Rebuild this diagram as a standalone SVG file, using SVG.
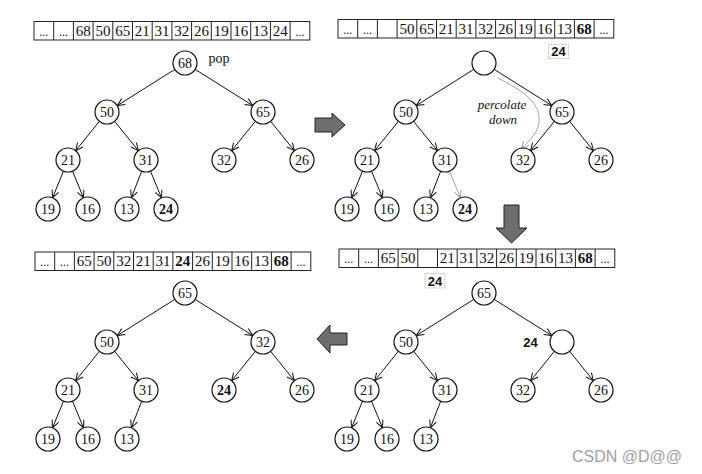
<svg xmlns="http://www.w3.org/2000/svg" xmlns:xlink="http://www.w3.org/1999/xlink" width="702" height="474" viewBox="0 0 702 474">
<style>
.bg{fill:#fff}
.nd{fill:#fff;stroke:#111;stroke-width:1.2}
.t{font-family:"Liberation Serif","Times New Roman",serif;font-size:14px;fill:#111;text-anchor:middle}
.b{font-weight:bold}
.lbl{font-family:"Liberation Sans",Arial,sans-serif;font-size:13px;font-weight:bold;fill:#111;text-anchor:middle}
.ed{fill:none;stroke:#111;stroke-width:1;marker-end:url(#ah)}
.eg{fill:none;stroke:#999;stroke-width:0.9;marker-end:url(#ahg)}
.cell{font-family:"Liberation Serif","Times New Roman",serif;font-size:15px;fill:#111;text-anchor:middle}
.dots{font-family:"Liberation Serif","Times New Roman",serif;font-size:12px;fill:#111;text-anchor:middle}
.frame{fill:none;stroke:#222;stroke-width:1}
.box{fill:#fff;stroke:#aaa;stroke-width:0.8;stroke-dasharray:1.5 1}
.blk{fill:#6e6e6e;stroke:#222;stroke-width:1}
.it{font-family:"Liberation Serif","Times New Roman",serif;font-size:13px;font-style:italic;fill:#111;text-anchor:middle}
</style>
<defs>
<marker id="ah" markerUnits="userSpaceOnUse" markerWidth="10" markerHeight="10" refX="8" refY="4" orient="auto">
<path d="M0.5,0.5 L8,4 L0.5,7.5" fill="none" stroke="#111" stroke-width="1"/>
</marker>
<marker id="ahg" markerUnits="userSpaceOnUse" markerWidth="10" markerHeight="10" refX="8" refY="4" orient="auto">
<path d="M0.5,0.5 L8,4 L0.5,7.5" fill="none" stroke="#999" stroke-width="0.9"/>
</marker>
<g id="grid">
<rect class="frame" x="0" y="0" width="275.8" height="18.5"/>
<path class="frame" d="M19.7,0V18.5M39.4,0V18.5M59.1,0V18.5M78.8,0V18.5M98.5,0V18.5M118.2,0V18.5M137.9,0V18.5M157.6,0V18.5M177.3,0V18.5M197,0V18.5M216.7,0V18.5M236.4,0V18.5M256.1,0V18.5"/>
</g>
</defs>
<rect class="bg" x="0" y="0" width="702" height="474"/>

<!-- Arrays -->
<g id="array-tl" transform="translate(34,21.5)">
<use xlink:href="#grid"/>
<text class="dots" x="9.85" y="14">...</text><text class="dots" x="29.55" y="14">...</text>
<text class="cell" x="49.25" y="14">68</text><text class="cell" x="68.95" y="14">50</text><text class="cell" x="88.65" y="14">65</text><text class="cell" x="108.35" y="14">21</text><text class="cell" x="128.05" y="14">31</text><text class="cell" x="147.75" y="14">32</text><text class="cell" x="167.45" y="14">26</text><text class="cell" x="187.15" y="14">19</text><text class="cell" x="206.85" y="14">16</text><text class="cell" x="226.55" y="14">13</text><text class="cell" x="246.25" y="14">24</text>
<text class="dots" x="265.95" y="14">...</text>
</g>
<g id="array-tr" transform="translate(338,19.5)">
<use xlink:href="#grid"/>
<text class="dots" x="9.85" y="14">...</text><text class="dots" x="29.55" y="14">...</text>
<text class="cell" x="68.95" y="14">50</text><text class="cell" x="88.65" y="14">65</text><text class="cell" x="108.35" y="14">21</text><text class="cell" x="128.05" y="14">31</text><text class="cell" x="147.75" y="14">32</text><text class="cell" x="167.45" y="14">26</text><text class="cell" x="187.15" y="14">19</text><text class="cell" x="206.85" y="14">16</text><text class="cell" x="226.55" y="14">13</text><text class="cell b" x="246.25" y="14">68</text>
<text class="dots" x="265.95" y="14">...</text>
</g>
<g id="array-bl" transform="translate(35,252)">
<use xlink:href="#grid"/>
<text class="dots" x="9.85" y="14">...</text><text class="dots" x="29.55" y="14">...</text>
<text class="cell" x="49.25" y="14">65</text><text class="cell" x="68.95" y="14">50</text><text class="cell" x="88.65" y="14">32</text><text class="cell" x="108.35" y="14">21</text><text class="cell" x="128.05" y="14">31</text><text class="cell b" x="147.75" y="14">24</text><text class="cell" x="167.45" y="14">26</text><text class="cell" x="187.15" y="14">19</text><text class="cell" x="206.85" y="14">16</text><text class="cell" x="226.55" y="14">13</text><text class="cell b" x="246.25" y="14">68</text>
<text class="dots" x="265.95" y="14">...</text>
</g>
<g id="array-br" transform="translate(339,249)">
<use xlink:href="#grid"/>
<text class="dots" x="9.85" y="14">...</text><text class="dots" x="29.55" y="14">...</text>
<text class="cell" x="49.25" y="14">65</text><text class="cell" x="68.95" y="14">50</text><text class="cell" x="108.35" y="14">21</text><text class="cell" x="128.05" y="14">31</text><text class="cell" x="147.75" y="14">32</text><text class="cell" x="167.45" y="14">26</text><text class="cell" x="187.15" y="14">19</text><text class="cell" x="206.85" y="14">16</text><text class="cell" x="226.55" y="14">13</text><text class="cell b" x="246.25" y="14">68</text>
<text class="dots" x="265.95" y="14">...</text>
</g>

<!-- Hole value boxes -->
<g id="box-tr"><rect class="box" x="548.5" y="44.5" width="20" height="14"/><text class="lbl" x="558.5" y="56">24</text></g>
<g id="box-br"><rect class="box" x="425" y="273.5" width="20" height="14.5"/><text class="lbl" x="435" y="285.5">24</text></g>

<!-- Block arrows -->
<g id="arrow-right"><polygon class="blk" points="315,118 332,118 332,113 345,125 332,137 332,132 315,132"/></g>
<g id="arrow-down"><polygon class="blk" points="504,205 519,205 519,228 527,228 511.5,243 496,228 504,228"/></g>
<g id="arrow-left"><polygon class="blk" points="317,339 330,325 330,333 347,333 347,345 330,345 330,353"/></g>

<!-- Top-left tree -->
<g id="tl" transform="translate(0,0)">
<g id="tl-edges">
<path class="ed" d="M174.8,69.4 L117.2,105.6"/>
<path class="ed" d="M195.2,69.4 L252.8,105.6"/>
<path class="ed" d="M99.4,121.3 L75.6,150.7"/>
<path class="ed" d="M114.6,121.3 L138.4,150.7"/>
<path class="ed" d="M255.4,121.3 L231.6,150.7"/>
<path class="ed" d="M270.6,121.3 L294.4,150.7"/>
<path class="ed" d="M63.5,171.1 L52.5,197.9"/>
<path class="ed" d="M72.5,171.1 L83.5,197.9"/>
<path class="ed" d="M141.7,171.2 L131.3,197.8"/>
<path class="ed" d="M150.5,171.1 L161.5,197.9"/>
</g>
<g id="tl-n68"><circle class="nd" cx="185" cy="63" r="12"/><text class="t" x="185" y="68">68</text></g>
<text class="t" x="219" y="62.5">pop</text>
<g id="tl-n50"><circle class="nd" cx="107" cy="112" r="12"/><text class="t" x="107" y="117">50</text></g>
<g id="tl-n65"><circle class="nd" cx="263" cy="112" r="12"/><text class="t" x="263" y="117">65</text></g>
<g id="tl-n21"><circle class="nd" cx="68" cy="160" r="12"/><text class="t" x="68" y="165">21</text></g>
<g id="tl-n31"><circle class="nd" cx="146" cy="160" r="12"/><text class="t" x="146" y="165">31</text></g>
<g id="tl-n32"><circle class="nd" cx="224" cy="160" r="12"/><text class="t" x="224" y="165">32</text></g>
<g id="tl-n26"><circle class="nd" cx="302" cy="160" r="12"/><text class="t" x="302" y="165">26</text></g>
<g id="tl-n19"><circle class="nd" cx="48" cy="209" r="12"/><text class="t" x="48" y="214">19</text></g>
<g id="tl-n16"><circle class="nd" cx="88" cy="209" r="12"/><text class="t" x="88" y="214">16</text></g>
<g id="tl-n13"><circle class="nd" cx="127" cy="209" r="12"/><text class="t" x="127" y="214">13</text></g>
<g id="tl-n24"><circle class="nd" cx="166" cy="209" r="12"/><text class="t b" x="166" y="214">24</text></g>
</g>

<!-- Top-right tree -->
<g id="tr" transform="translate(299,0)">
<g id="tr-edges">
<path class="ed" d="M174.8,69.4 L117.2,105.6"/>
<path class="ed" d="M195.2,69.4 L252.8,105.6"/>
<path class="ed" d="M99.4,121.3 L75.6,150.7"/>
<path class="ed" d="M114.6,121.3 L138.4,150.7"/>
<path class="ed" d="M255.4,121.3 L231.6,150.7"/>
<path class="ed" d="M270.6,121.3 L294.4,150.7"/>
<path class="ed" d="M63.5,171.1 L52.5,197.9"/>
<path class="ed" d="M72.5,171.1 L83.5,197.9"/>
<path class="ed" d="M141.7,171.2 L131.3,197.8"/>
<path class="eg" d="M150.5,171.1 L161.5,197.9"/>
<path class="eg" d="M199,78 C214,86 238,98 240,116 C242,132 230,140 222.5,149"/>
</g>
<text class="it" x="203" y="109">percolate</text>
<text class="it" x="204" y="124">down</text>
<g id="tr-hole"><circle class="nd" cx="185" cy="63" r="12"/></g>
<g id="tr-n50"><circle class="nd" cx="107" cy="112" r="12"/><text class="t" x="107" y="117">50</text></g>
<g id="tr-n65"><circle class="nd" cx="263" cy="112" r="12"/><text class="t" x="263" y="117">65</text></g>
<g id="tr-n21"><circle class="nd" cx="68" cy="160" r="12"/><text class="t" x="68" y="165">21</text></g>
<g id="tr-n31"><circle class="nd" cx="146" cy="160" r="12"/><text class="t" x="146" y="165">31</text></g>
<g id="tr-n32"><circle class="nd" cx="224" cy="160" r="12"/><text class="t" x="224" y="165">32</text></g>
<g id="tr-n26"><circle class="nd" cx="302" cy="160" r="12"/><text class="t" x="302" y="165">26</text></g>
<g id="tr-n19"><circle class="nd" cx="48" cy="209" r="12"/><text class="t" x="48" y="214">19</text></g>
<g id="tr-n16"><circle class="nd" cx="88" cy="209" r="12"/><text class="t" x="88" y="214">16</text></g>
<g id="tr-n13"><circle class="nd" cx="127" cy="209" r="12"/><text class="t" x="127" y="214">13</text></g>
<g id="tr-n24"><circle class="nd" cx="166" cy="209" r="12"/><text class="t b" x="166" y="214">24</text></g>
</g>

<!-- Bottom-left tree -->
<g id="bl" transform="translate(0,230)">
<g id="bl-edges">
<path class="ed" d="M174.8,69.4 L117.2,105.6"/>
<path class="ed" d="M195.2,69.4 L252.8,105.6"/>
<path class="ed" d="M99.4,121.3 L75.6,150.7"/>
<path class="ed" d="M114.6,121.3 L138.4,150.7"/>
<path class="ed" d="M255.4,121.3 L231.6,150.7"/>
<path class="ed" d="M270.6,121.3 L294.4,150.7"/>
<path class="ed" d="M63.5,171.1 L52.5,197.9"/>
<path class="ed" d="M72.5,171.1 L83.5,197.9"/>
<path class="ed" d="M141.7,171.2 L131.3,197.8"/>
</g>
<g id="bl-n65"><circle class="nd" cx="185" cy="63" r="12"/><text class="t" x="185" y="68">65</text></g>
<g id="bl-n50"><circle class="nd" cx="107" cy="112" r="12"/><text class="t" x="107" y="117">50</text></g>
<g id="bl-n32"><circle class="nd" cx="263" cy="112" r="12"/><text class="t" x="263" y="117">32</text></g>
<g id="bl-n21"><circle class="nd" cx="68" cy="160" r="12"/><text class="t" x="68" y="165">21</text></g>
<g id="bl-n31"><circle class="nd" cx="146" cy="160" r="12"/><text class="t" x="146" y="165">31</text></g>
<g id="bl-n24"><circle class="nd" cx="224" cy="160" r="12"/><text class="t b" x="224" y="165">24</text></g>
<g id="bl-n26"><circle class="nd" cx="302" cy="160" r="12"/><text class="t" x="302" y="165">26</text></g>
<g id="bl-n19"><circle class="nd" cx="48" cy="209" r="12"/><text class="t" x="48" y="214">19</text></g>
<g id="bl-n16"><circle class="nd" cx="88" cy="209" r="12"/><text class="t" x="88" y="214">16</text></g>
<g id="bl-n13"><circle class="nd" cx="127" cy="209" r="12"/><text class="t" x="127" y="214">13</text></g>
</g>

<!-- Bottom-right tree -->
<g id="br" transform="translate(299,230)">
<g id="br-edges">
<path class="ed" d="M174.8,69.4 L117.2,105.6"/>
<path class="ed" d="M195.2,69.4 L252.8,105.6"/>
<path class="ed" d="M99.4,121.3 L75.6,150.7"/>
<path class="ed" d="M114.6,121.3 L138.4,150.7"/>
<path class="ed" d="M255.4,121.3 L231.6,150.7"/>
<path class="ed" d="M270.6,121.3 L294.4,150.7"/>
<path class="ed" d="M63.5,171.1 L52.5,197.9"/>
<path class="ed" d="M72.5,171.1 L83.5,197.9"/>
<path class="ed" d="M141.7,171.2 L131.3,197.8"/>
</g>
<g id="br-n65"><circle class="nd" cx="185" cy="63" r="12"/><text class="t" x="185" y="68">65</text></g>
<g id="br-n50"><circle class="nd" cx="107" cy="112" r="12"/><text class="t" x="107" y="117">50</text></g>
<g id="br-hole"><circle class="nd" cx="263" cy="112" r="12"/></g>
<text class="lbl" x="231.5" y="116.5">24</text>
<g id="br-n21"><circle class="nd" cx="68" cy="160" r="12"/><text class="t" x="68" y="165">21</text></g>
<g id="br-n31"><circle class="nd" cx="146" cy="160" r="12"/><text class="t" x="146" y="165">31</text></g>
<g id="br-n32"><circle class="nd" cx="224" cy="160" r="12"/><text class="t" x="224" y="165">32</text></g>
<g id="br-n26"><circle class="nd" cx="302" cy="160" r="12"/><text class="t" x="302" y="165">26</text></g>
<g id="br-n19"><circle class="nd" cx="48" cy="209" r="12"/><text class="t" x="48" y="214">19</text></g>
<g id="br-n16"><circle class="nd" cx="88" cy="209" r="12"/><text class="t" x="88" y="214">16</text></g>
<g id="br-n13"><circle class="nd" cx="127" cy="209" r="12"/><text class="t" x="127" y="214">13</text></g>
</g>

<text x="627" y="462" font-family="Liberation Sans, Arial, sans-serif" font-size="16" fill="#a0a0a0" text-anchor="middle">CSDN @D@@</text>
</svg>
